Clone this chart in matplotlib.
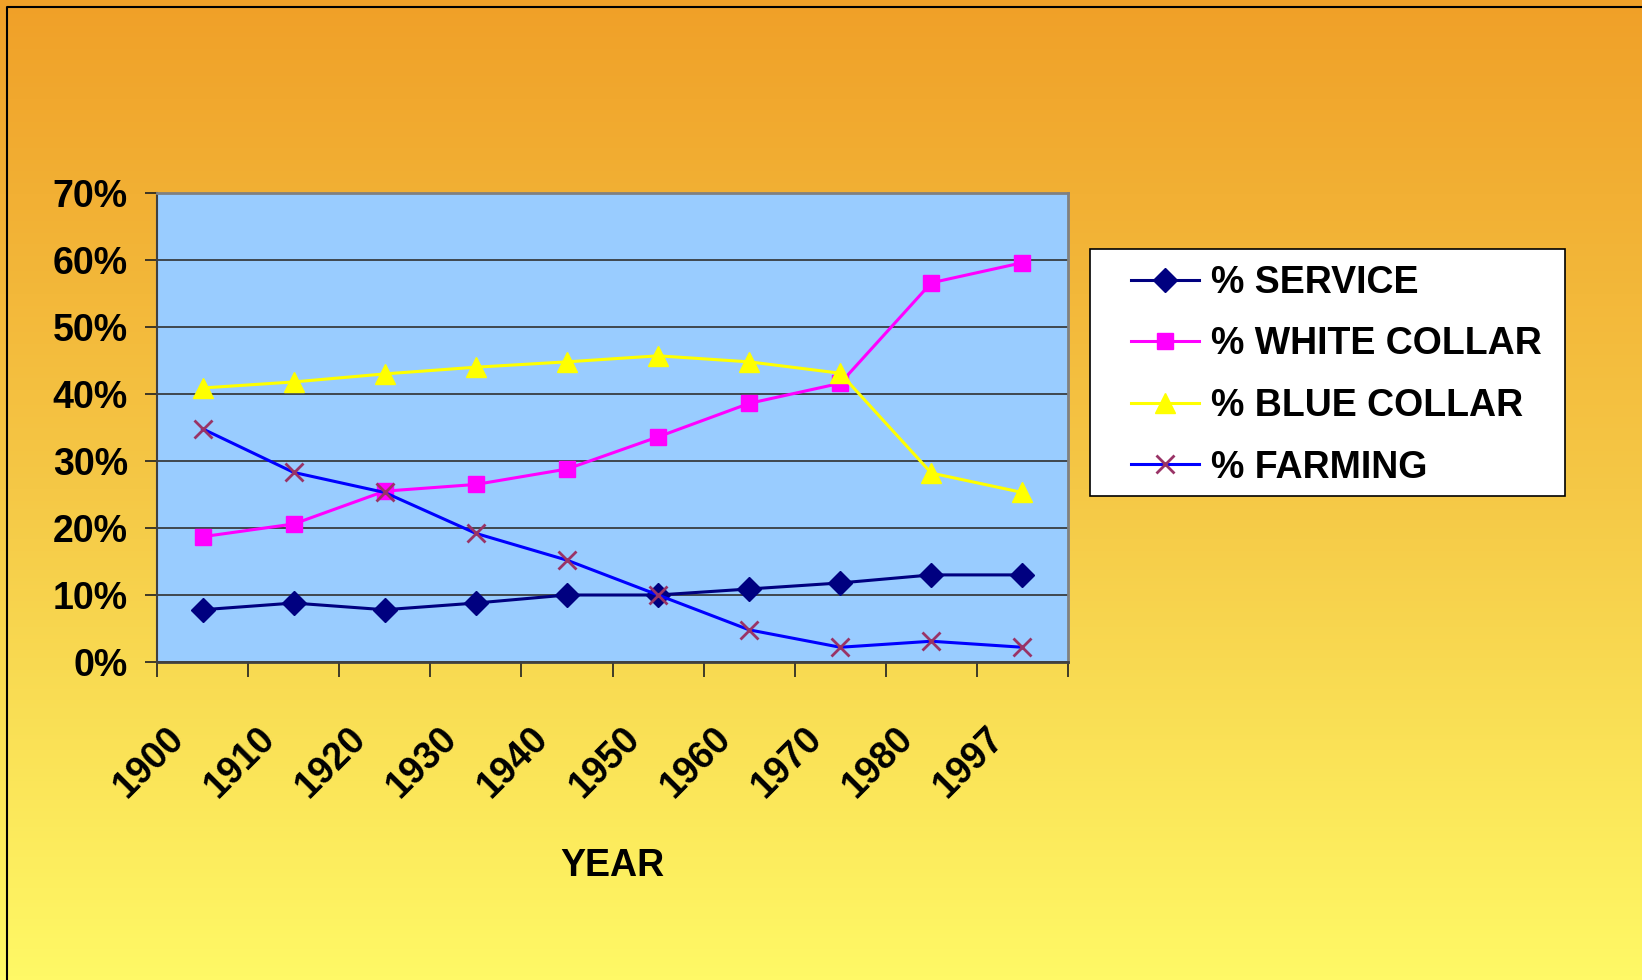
import numpy as np
import matplotlib
matplotlib.use('Agg')
import matplotlib.pyplot as plt
import matplotlib.transforms as mtransforms
from matplotlib.colors import LinearSegmentedColormap
from matplotlib.patches import Rectangle
from matplotlib.lines import Line2D

plt.rcParams['font.family'] = ['Liberation Sans', 'DejaVu Sans']
plt.rcParams['font.weight'] = 'bold'

#%% Data (percent of workforce)
years = ['1900', '1910', '1920', '1930', '1940', '1950', '1960', '1970', '1980', '1997']
service = [7.8, 8.8, 7.8, 8.8, 10.0, 10.0, 10.9, 11.8, 13.0, 13.0]
white_collar = [18.7, 20.6, 25.5, 26.5, 28.8, 33.6, 38.6, 41.6, 56.6, 59.6]
blue_collar = [40.9, 41.8, 43.0, 44.0, 44.8, 45.7, 44.8, 43.1, 28.2, 25.3]
farming = [34.8, 28.3, 25.3, 19.2, 15.2, 10.0, 4.8, 2.2, 3.1, 2.2]

#%% Figure + gradient background
W, H = 1642, 980
fig = plt.figure(figsize=(W/100, H/100), dpi=100)

bg = fig.add_axes([0, 0, 1, 1], zorder=-10)
cmap = LinearSegmentedColormap.from_list('bg', ['#F0A028', '#F5C846', '#FFF966'])
grad = np.linspace(0, 1, 256).reshape(-1, 1)
bg.imshow(grad, aspect='auto', cmap=cmap, extent=[0, 1, 0, 1], origin='upper')
bg.set_xlim(0, 1); bg.set_ylim(0, 1)
bg.axis('off')

# frame line (top + left only visible)
bg.add_line(Line2D([7/W, 7/W, 1], [0, 1-7/H, 1-7/H], color='black', lw=1.5,
                   transform=bg.transAxes))

#%% Main axes
left, right, top, bottom = 157, 1068, 193, 662
ax = fig.add_axes([left/W, 1-bottom/H, (right-left)/W, (bottom-top)/H])
ax.set_facecolor('#99CCFF')

x = np.arange(len(years))
ax.plot(x, service, color='#000080', lw=2.2, marker='D', ms=12, mfc='#000080',
        mec='#000080', label='% SERVICE')
ax.plot(x, white_collar, color='#FF00FF', lw=2.2, marker='s', ms=12, mfc='#FF00FF',
        mec='#FF00FF', label='% WHITE COLLAR')
ax.plot(x, blue_collar, color='#FFFF00', lw=2.2, marker='^', ms=15, mfc='#FFFF00',
        mec='#FFFF00', label='% BLUE COLLAR')
ax.plot(x, farming, color='#0000FF', lw=2.2, marker='x', ms=13, mew=2,
        mec='#993366', label='% FARMING')

ax.set_xlim(-0.5, len(years)-0.5)
ax.set_ylim(0, 70)
ax.set_yticks(np.arange(0, 71, 10))
ax.set_yticklabels([f'{v}%' for v in range(0, 71, 10)])
ax.yaxis.grid(True, color='#303030', lw=1.2)
ax.set_axisbelow(True)

ax.set_xticks(np.arange(-0.5, len(years), 1))
ax.set_xticks(x, minor=True)
ax.set_xticklabels(years, minor=True)
ax.tick_params(axis='x', which='major', labelbottom=False, length=11, width=1.2,
               color='#202020', direction='out')
ax.tick_params(axis='x', which='minor', length=0, pad=51, labelsize=27)
ax.tick_params(axis='y', length=9, width=1.2, pad=12, labelsize=27, color='#202020')

shift = mtransforms.ScaledTranslation(-0.24, 0, fig.dpi_scale_trans)
for lab in ax.get_xticklabels(minor=True):
    lab.set_rotation(45)
    lab.set_ha('right')
    lab.set_va('center')
    lab.set_rotation_mode('anchor')
    lab.set_transform(lab.get_transform() + shift)

for s in ['top', 'right']:
    ax.spines[s].set_color('#808080')
    ax.spines[s].set_linewidth(2)
ax.spines['left'].set_color('#404040')
ax.spines['left'].set_linewidth(1.5)
ax.spines['bottom'].set_color('#404040')
ax.spines['bottom'].set_linewidth(2)

ax.set_xlabel('YEAR', fontsize=27, fontweight='bold')
ax.xaxis.set_label_coords(0.5, -0.397)

#%% Legend in a white box
fig.patches.append(Rectangle((1090/W, 1-496/H), 475/W, 247/H, transform=fig.transFigure,
                             facecolor='white', edgecolor='black', lw=1.2, zorder=1))
leg = fig.legend(loc='upper left', bbox_to_anchor=(1131/W, 1-265/H), frameon=False,
                 fontsize=27, handlelength=1.8, handletextpad=0.33, labelspacing=0.68,
                 borderpad=0, borderaxespad=0)
leg.set_zorder(2)

fig.savefig('out.png', dpi=100)
